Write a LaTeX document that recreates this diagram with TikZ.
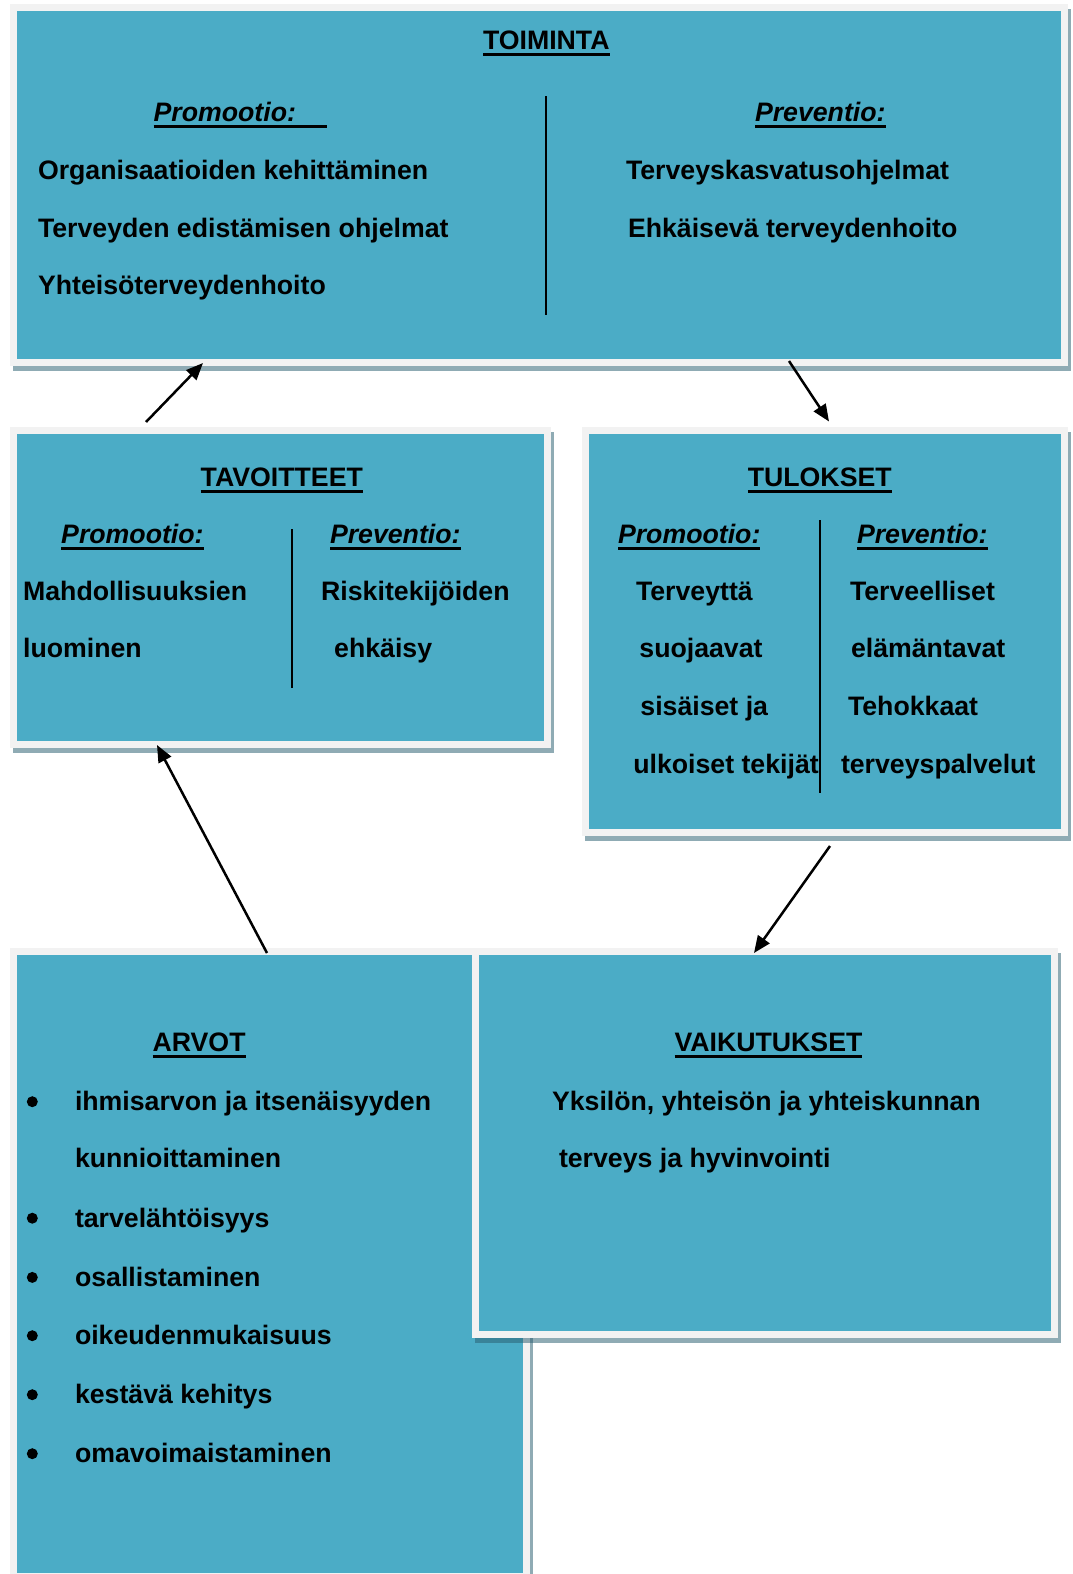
\documentclass[tikz,border=0pt]{standalone}
\usepackage{fontspec}
\setmainfont{Liberation Sans}
\usetikzlibrary{arrows.meta,calc}

\definecolor{panelfill}{RGB}{75,172,198}
\definecolor{panelrim}{RGB}{242,242,242}
\definecolor{panelshade}{RGB}{42,94,113}

% underlined word; optional argument lengthens the rule past the text
\newcommand\ulword[2][0pt]{\setbox0=\hbox{#2}\rlap{\rule[-6.5pt]{\dimexpr\wd0+#1\relax}{3pt}}\box0}

% panel: shadow + rimmed box; args: name, left, top, right, bottom (outer edges)
\newcommand\panel[5]{%
  \fill[panelshade, fill opacity=.52] (#2+3,#3+5) rectangle (#4+3,#5+5);
  \node[panelbox, minimum width=#4-#2-7, minimum height=#5-#3-7] (#1) at (#2+3.5,#3+3.5) {};
}

\begin{document}
\begin{tikzpicture}[x=1pt, y=-1pt,
  panelbox/.style={rectangle, draw=panelrim, fill=panelfill, line width=7pt,
    outer sep=0pt, inner sep=0pt, anchor=north west},
  txt/.style={anchor=base west, inner sep=0pt, outer sep=0pt,
    font=\fontsize{26.7}{30}\selectfont\bfseries},
  head/.style={txt, font=\fontsize{26.7}{30}\selectfont\bfseries\itshape},
  divider/.style={line width=2pt},
  bul/.style={circle, fill=black, inner sep=0pt, minimum size=11pt},
  arr/.style={line width=2.5pt, -{Triangle[length=17pt,width=14pt]}}]

\useasboundingbox (0,0) rectangle (1072,1574);
\fill[white] (0,0) rectangle (1072,1574);

% panels
\panel{toim}{10}{4}{1068}{366}
\panel{tav}{10}{427}{551}{748}
\panel{tul}{582}{427}{1068}{836}
\panel{arv}{10}{948}{530}{1580}
\panel{vai}{472}{948}{1058}{1338}

% TOIMINTA
\node[txt] (toimT) at (483,49.3) {\ulword{TOIMINTA}};
\node[head] (toimPro) at (153.6,121.7) {\ulword[31pt]{Promootio:}};
\node[head] (toimPre) at (755,121.7) {\ulword{Preventio:}};
\node[txt] (toim1) at (38,179.5) {Organisaatioiden kehittäminen};
\node[txt] (toim2) at (38,237.2) {Terveyden edistämisen ohjelmat};
\node[txt] (toim3) at (38,294.9) {Yhteisöterveydenhoito};
\node[txt] (toim4) at (626,179.5) {Terveyskasvatusohjelmat};
\node[txt] (toim5) at (628,237.2) {Ehkäisevä terveydenhoito};
\draw[divider] (546,96) -- (546,315);

% TAVOITTEET
\node[txt] (tavT) at (200.7,486.3) {\ulword{TAVOITTEET}};
\node[head] (tavPro) at (61.2,543.3) {\ulword{Promootio:}};
\node[head] (tavPre) at (330,543.3) {\ulword{Preventio:}};
\node[txt] (tav1) at (23.1,600) {Mahdollisuuksien};
\node[txt] (tav2) at (23.1,657.7) {luominen};
\node[txt] (tav3) at (321.2,600) {Riskitekijöiden};
\node[txt] (tav4) at (334.2,657.7) {ehkäisy};
\draw[divider] (292,529) -- (292,688);

% TULOKSET
\node[txt] (tulT) at (747.8,486.3) {\ulword{TULOKSET}};
\node[head] (tulPro) at (618,543.3) {\ulword{Promootio:}};
\node[head] (tulPre) at (857,543.3) {\ulword{Preventio:}};
\node[txt] (tul1) at (636,600) {Terveyttä};
\node[txt] (tul2) at (639.4,657.7) {suojaavat};
\node[txt] (tul3) at (640.4,715.4) {sisäiset ja};
\node[txt] (tul4) at (633.3,773) {ulkoiset tekijät};
\node[txt] (tul5) at (850,600) {Terveelliset};
\node[txt] (tul6) at (851,657.7) {elämäntavat};
\node[txt] (tul7) at (848,715.4) {Tehokkaat};
\node[txt] (tul8) at (841,773) {terveyspalvelut};
\draw[divider] (820,520) -- (820,793);

% ARVOT
\node[txt] (arvT) at (152.6,1051.7) {\ulword{ARVOT}};
\node[txt] (arv1) at (75,1110.7) {ihmisarvon ja itsenäisyyden};
\node[txt] (arv2) at (75,1167.7) {kunnioittaminen};
\node[txt] (arv3) at (75,1227.2) {tarvelähtöisyys};
\node[txt] (arv4) at (75,1286.4) {osallistaminen};
\node[txt] (arv5) at (75,1344.7) {oikeudenmukaisuus};
\node[txt] (arv6) at (75,1403.7) {kestävä kehitys};
\node[txt] (arv7) at (75,1462.7) {omavoimaistaminen};
\node[bul] (b1) at (32.3,1101.7) {};
\node[bul] (b3) at (32.3,1218.2) {};
\node[bul] (b4) at (32.3,1277.4) {};
\node[bul] (b5) at (32.3,1335.7) {};
\node[bul] (b6) at (32.3,1394.7) {};
\node[bul] (b7) at (32.3,1453.7) {};

% VAIKUTUKSET
\node[txt] (vaiT) at (674.5,1051.7) {\ulword{VAIKUTUKSET}};
\node[txt] (vai1) at (552,1110.7) {Yksilön, yhteisön ja yhteiskunnan};
\node[txt] (vai2) at (559,1167.7) {terveys ja hyvinvointi};

% cycle arrows
\draw[arr] ([shift={(132.5,-8.5)}]tav.north west) -- ([shift={(189.5,0.5)}]toim.south west);
\draw[arr] ([shift={(775.5,-1.5)}]toim.south west) -- ([shift={(243.5,-9)}]tul.north west);
\draw[arr] ([shift={(244.5,13.5)}]tul.south west) -- ([shift={(278.5,1.5)}]vai.north west);
\draw[arr] ([shift={(253.5,1.5)}]arv.north west) -- ([shift={(143.5,0.5)}]tav.south west);

\end{tikzpicture}
\end{document}
